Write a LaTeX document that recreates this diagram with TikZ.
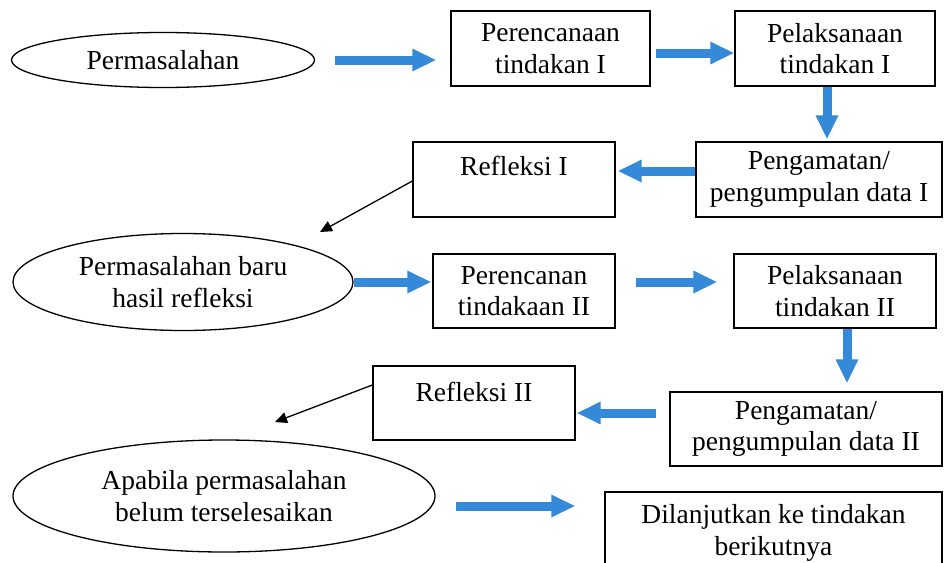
\documentclass[tikz,border=0pt]{standalone}
\usepackage{fontspec}
\setmainfont{Liberation Serif}
\usetikzlibrary{shapes.geometric,arrows.meta}
\definecolor{arrowblue}{RGB}{52,138,216}
\tikzset{
  every node/.style={font=\fontsize{27.5}{31.5}\selectfont, align=center, inner sep=0pt},
  boxnode/.style={draw, line width=1.3pt, rectangle},
  ovalnode/.style={draw, line width=1.3pt, ellipse},
  barrow/.style={draw=arrowblue, line width=9pt, -{Triangle[width=21pt,length=24pt]}},
  karrow/.style={draw=black, line width=1.3pt, -{Triangle[width=11pt,length=12pt]}}
}
\begin{document}
\begin{tikzpicture}[x=1pt,y=-1pt]
\clip (0,0) rectangle (944,562);
\fill[white] (0,0) rectangle (944,562);
% nodes
\node[ovalnode, minimum width=303pt, minimum height=55pt] (e1) at (163,60) {Permasalahan};
\node[boxnode, minimum width=199pt, minimum height=75pt] (b1) at (550.5,48.5) {Perencanaan\\tindakan I};
\node[boxnode, minimum width=200pt, minimum height=75pt] (b2) at (835,48.5) {Pelaksanaan\\tindakan I};
\node[boxnode, minimum width=246pt, minimum height=75pt] (b3) at (819,179.5) {Pengamatan/\\pengumpulan data I};
\node[boxnode, minimum width=202pt, minimum height=75pt,
      label={[yshift=14pt]center:Refleksi I}] (b4) at (514,179.5) {};
\node[ovalnode, minimum width=340pt, minimum height=97pt] (e2) at (183,282) {Permasalahan baru\\hasil refleksi};
\node[boxnode, minimum width=182pt, minimum height=74pt] (b5) at (524,291) {Perencanan\\tindakaan II};
\node[boxnode, minimum width=202pt, minimum height=74pt] (b6) at (835,291) {Pelaksanaan\\tindakan II};
\node[boxnode, minimum width=272pt, minimum height=74pt] (b7) at (806,429) {Pengamatan/\\pengumpulan data II};
\node[boxnode, minimum width=202pt, minimum height=74pt,
      label={[yshift=11pt]center:Refleksi II}] (b8) at (474,403) {};
\node[ovalnode, minimum width=422pt, minimum height=112pt] (e3) at (224,496) {Apabila permasalahan\\belum terselesaikan};
\node[boxnode, minimum width=337pt, minimum height=82pt] (b9) at (773.5,533) {Dilanjutkan ke tindakan\\berikutnya};
\coordinate (t1) at (320,232);
\coordinate (t2) at (275,422);
% blue arrows
\draw[barrow, shorten <=20pt, shorten >=14pt] (e1.east) -- (e1.east -| b1.west);
\draw[barrow, shorten <=5pt] ([yshift=-4.5pt]b1.east) -- ([yshift=-4.5pt]b2.west);
\draw[barrow, shorten >=2pt] ([xshift=-8pt]b2.south) -- ([xshift=-8pt]b2.south |- b3.north);
\draw[barrow, shorten >=2pt] ([yshift=8.5pt]b3.west) -- ([yshift=8.5pt]b3.west -| b4.east);
\draw[barrow, shorten >=1pt] (e2.east) -- (e2.east -| b5.west);
\draw[barrow, shorten <=20pt, shorten >=16pt] ([yshift=9pt]b5.east) -- ([yshift=9pt]b6.west);
\draw[barrow, shorten >=8pt] ([xshift=12pt]b6.south) -- ([xshift=12pt]b6.south |- b7.north);
\draw[barrow, shorten <=13pt, shorten >=1pt] ([yshift=16pt]b7.west) -- ([yshift=16pt]b7.west -| b8.east);
\draw[barrow, shorten <=20pt, shorten >=29pt] ([yshift=-10pt]e3.east) -- ([yshift=-10pt]e3.east -| b9.west);
% black arrows
\draw[karrow] ([yshift=-1.5pt]b4.west) -- (t1);
\draw[karrow] ([yshift=18pt]b8.west) -- (t2);
\end{tikzpicture}
\end{document}
